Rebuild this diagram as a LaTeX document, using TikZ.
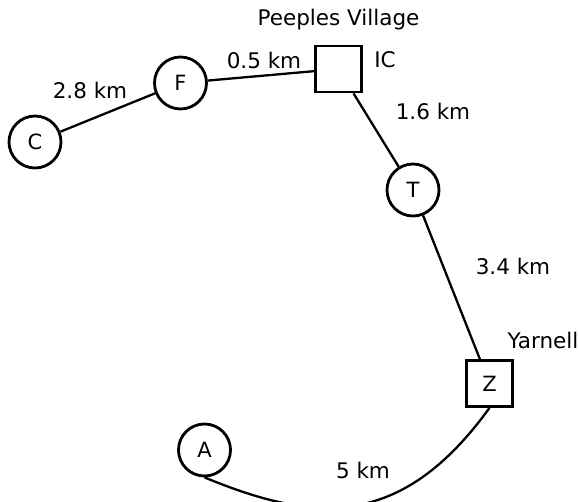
\documentclass[tikz,border=0pt]{standalone}
\usepackage{fontspec}
\setmainfont{DejaVu Sans}
\usetikzlibrary{shapes}

\begin{document}
\begin{tikzpicture}[x=1pt,y=-1pt,
	town/.style={circle,draw,line width=2.8pt,minimum size=52pt,inner sep=0pt,font=\fontsize{21}{25}\selectfont},
	junction/.style={rectangle,draw,line width=2.8pt,minimum size=46pt,inner sep=0pt,font=\fontsize{21}{25}\selectfont},
	dist/.style={font=\fontsize{21.5}{25}\selectfont},
	road/.style={line width=2.3pt}]
		\useasboundingbox (0,0) rectangle (579,502);
		\node[town] (C) at (35,142) {C};
		\node[town] (F) at (180.5,83) {F};
		\node[junction] (IC) at (338.5,69) {};
		\node[town] (T) at (413,190) {T};
		\node[junction] (Z) at (489.5,383.5) {Z};
		\node[town] (A) at (204.5,450) {A};
		\node[dist] (peeples) at (338.5,20) {Peeples Village};
		\node[dist] (ic) at (385,60) {IC};
		\node[dist] (yarnell) at (543,340) {Yarnell};
		\draw[road] (C) -- (F);
		\draw[road] (F) -- (IC);
		\draw[road] (IC) -- (T);
		\draw[road] (T) -- (Z);
		\draw[road] (A.south) .. controls (315,523) and (401,530) .. (Z.south);
		\node[dist] (dCF) at (90,90) {2.8 km};
		\node[dist] (dFI) at (264,60) {0.5 km};
		\node[dist] (dIT) at (433,111) {1.6 km};
		\node[dist] (dTZ) at (513,266) {3.4 km};
		\node[dist] (dZA) at (363,470) {5 km};
		\end{tikzpicture}
\end{document}
